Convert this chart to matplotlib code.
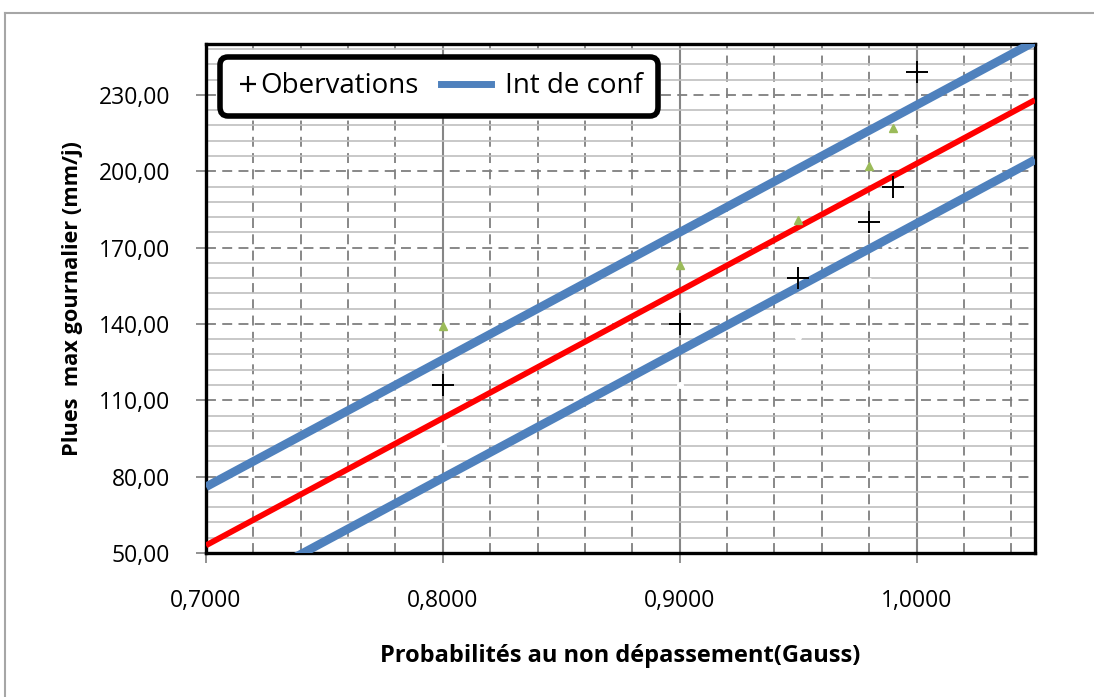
import matplotlib
matplotlib.use("Agg")
import matplotlib.pyplot as plt
from matplotlib.ticker import MultipleLocator, FuncFormatter
from matplotlib.lines import Line2D
from matplotlib.legend_handler import HandlerBase

# ---- data ----
obs_x = [0.80, 0.90, 0.95, 0.98, 0.99, 1.00]
obs_y = [116, 140, 158, 180, 194, 239]
upper_pts_x = [0.80, 0.90, 0.95, 0.98, 0.99]
upper_pts_y = [139, 163, 181, 202, 217]
lower_pts_x = [0.80, 0.90, 0.95, 0.98, 0.99, 1.00]
lower_pts_y = [92, 116, 135, 157, 171, 216]
line_x = [0.70, 1.05]
fit_y = [53, 228]
conf_up_y = [76, 251]
conf_low_y = [29.5, 204.5]

x_label = "Probabilités au non dépassement(Gauss)"
y_label = "Plues  max gournalier (mm/j)"
legend_obs = "Obervations"
legend_conf = "Int de conf"

FONT = "Open Sans"
BLUE = "#4F81BD"
RED = "#FF0000"
GREEN = "#9BBB59"

W, H = 1094, 697
fig = plt.figure(figsize=(W / 100, H / 100), dpi=100)
fig.patch.set_facecolor("white")

# outer chart border
fig.add_artist(Line2D([5 / W, 1.0], [1 - 13 / H, 1 - 13 / H], transform=fig.transFigure,
                      color="#A6A6A6", lw=1.5))
fig.add_artist(Line2D([5 / W, 5 / W], [0, 1 - 13 / H], transform=fig.transFigure,
                      color="#A6A6A6", lw=1.5))

left, right, top, bottom = 206, 1035, 44, 553
ax = fig.add_axes([left / W, 1 - bottom / H, (right - left) / W, (bottom - top) / H])

ax.set_xlim(0.70, 1.05)
ax.set_ylim(50, 250)
ax.xaxis.set_major_locator(MultipleLocator(0.1))
ax.xaxis.set_minor_locator(MultipleLocator(0.02))
ax.yaxis.set_major_locator(MultipleLocator(30, offset=20))
ax.yaxis.set_minor_locator(MultipleLocator(6, offset=2))
ax.xaxis.set_major_formatter(FuncFormatter(lambda v, p: f"{v:.4f}".replace(".", ",")))
ax.yaxis.set_major_formatter(FuncFormatter(lambda v, p: f"{v:.2f}".replace(".", ",")))

# grid
ax.set_axisbelow(True)
ax.yaxis.grid(True, which="minor", color="#BFBFBF", lw=1.2, ls="-")
ax.yaxis.grid(True, which="major", color="#7F7F7F", lw=1.3, ls=(0, (5.5, 3.5)))
ax.xaxis.grid(True, which="minor", color="#7F7F7F", lw=1.3, ls=(0, (5.5, 3.5)))
ax.xaxis.grid(True, which="major", color="#868686", lw=1.5, ls="-")

for s in ax.spines.values():
    s.set_linewidth(2.4)
    s.set_color("black")

ax.tick_params(which="major", direction="out", length=7, width=1.2, color="#7F7F7F",
               labelsize=16.5)
ax.tick_params(axis="x", which="major", pad=19)
ax.tick_params(axis="y", which="major", pad=19)
ax.tick_params(which="minor", length=0)
for lab in ax.get_xticklabels() + ax.get_yticklabels():
    lab.set_fontfamily(FONT)

# series
ax.plot(line_x, fit_y, color=RED, lw=4.2, solid_capstyle="butt", zorder=3)
ax.plot(line_x, conf_up_y, color=BLUE, lw=6.2, solid_capstyle="butt", zorder=3)
ax.plot(line_x, conf_low_y, color=BLUE, lw=6.2, solid_capstyle="butt", zorder=3)
ax.plot(lower_pts_x, lower_pts_y, ls="none", marker="o", ms=4, color="white",
        mec="white", zorder=2.5)
ax.plot(upper_pts_x, upper_pts_y, ls="none", marker="^", ms=5.5, color=GREEN,
        mec=GREEN, zorder=4)
ax.plot(obs_x, obs_y, ls="none", marker="+", ms=16, mew=1.4, color="black", zorder=5)

ax.set_xlabel(x_label, fontfamily=FONT, fontweight="bold", fontsize=17, labelpad=22)
ax.set_ylabel(y_label, fontfamily=FONT, fontweight="bold", fontsize=15.7, labelpad=11)


class PlusHandler(HandlerBase):
    def create_artists(self, legend, orig_handle, xd, yd, width, height, fontsize, trans):
        m = Line2D([width - xd - 0.3 * fontsize], [height / 2 - yd], ls="none",
                   marker="+", ms=11, mew=1.6, color="black", transform=trans)
        return [m]


class LongLineHandler(HandlerBase):
    def create_artists(self, legend, orig_handle, xd, yd, width, height, fontsize, trans):
        y = height / 2 - yd
        ln = Line2D([width - xd - 2.15 * fontsize, width - xd - 0.35 * fontsize], [y, y],
                    color=BLUE, lw=5, transform=trans)
        return [ln]


h_obs = Line2D([], [], ls="none", marker="+", color="black")
h_conf = Line2D([], [], color=BLUE, lw=5)
leg = ax.legend([h_obs, h_conf], [legend_obs, legend_conf], ncol=2,
                handler_map={h_obs: PlusHandler(), h_conf: LongLineHandler()},
                loc="upper left", bbox_to_anchor=(14 / 829, 1 - 13 / 509),
                prop={"family": FONT, "size": 20}, handlelength=0.75,
                handletextpad=0.15, columnspacing=2.2, borderpad=0.55,
                frameon=True, fancybox=True, framealpha=1, borderaxespad=0)
fr = leg.get_frame()
fr.set_edgecolor("black")
fr.set_linewidth(4)
fr.set_boxstyle("round", pad=0, rounding_size=0.3)
leg.set_zorder(10)

fig.savefig("out.png", dpi=100, facecolor="white")
